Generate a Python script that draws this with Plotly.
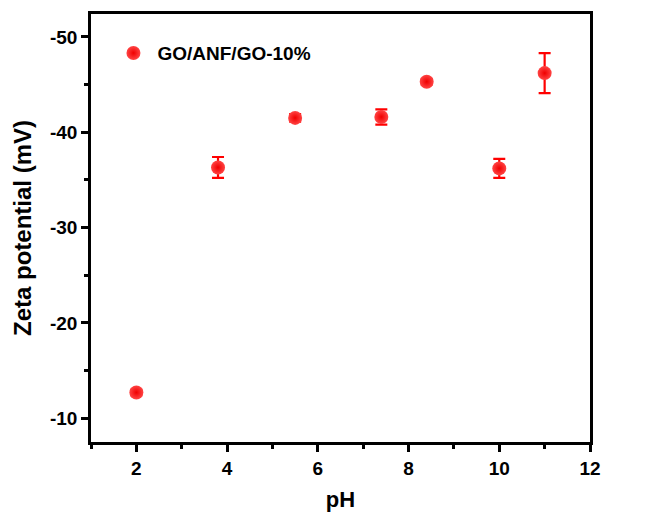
import plotly.graph_objects as go

ph = [2.0, 3.8, 5.5, 7.4, 8.4, 10.0, 11.0]
zeta = [-12.7, -36.3, -41.5, -41.6, -45.3, -36.2, -46.2]
err = [0.3, 1.1, 0.4, 0.8, 0.3, 1.0, 2.1]
series_name = "GO/ANF/GO-10%"

x_ticks = [2, 4, 6, 8, 10, 12]
y_ticks = [-50, -40, -30, -20, -10]
y_ticklabels = ["-50", "-40", "-30", "-20", "-10"]

FONT = "Arial, Liberation Sans, sans-serif"

fig = go.Figure()
fig.add_trace(go.Scatter(
    x=ph, y=zeta, mode="markers", name=series_name,
    error_y=dict(type="data", array=err, visible=True, color="#ff0000",
                 thickness=2.2, width=6),
    marker=dict(size=14, color="#ff4444",
                gradient=dict(type="radial", color="#f00000"),
                line=dict(width=0)),
))

axis_common = dict(
    showline=True, linecolor="black", linewidth=2.5, mirror=True,
    ticks="outside", ticklen=7, tickwidth=2.5, tickcolor="black",
    showgrid=False, zeroline=False, automargin=False,
    tickfont=dict(family=FONT, size=19, color="black", weight="bold"),
)

fig.update_layout(
    width=646, height=517,
    margin=dict(l=91, r=56, t=14, b=75, autoexpand=False),
    paper_bgcolor="white", plot_bgcolor="white",
    showlegend=True,
    legend=dict(x=0.037, y=0.953, xanchor="left", yanchor="top",
                bgcolor="rgba(0,0,0,0)", itemwidth=38,
                font=dict(family=FONT, size=19, color="black", weight="bold")),
    xaxis=dict(range=[1, 12], tickvals=x_ticks, ticktext=[str(v) for v in x_ticks],
               minor=dict(dtick=1, ticks="outside", ticklen=4, tickwidth=2.5, tickcolor="black"),
               title=dict(text="pH", standoff=15,
                          font=dict(family=FONT, size=22, color="black", weight="bold")),
               **axis_common),
    yaxis=dict(range=[-7.5, -52.4], tickvals=y_ticks, ticktext=y_ticklabels,
               minor=dict(dtick=5, ticks="outside", ticklen=4, tickwidth=2.5, tickcolor="black"),
               title=dict(text="Zeta potential (mV)", standoff=12,
                          font=dict(family=FONT, size=24, color="black", weight="bold")),
               **axis_common),
)

fig.write_html("out.html")
